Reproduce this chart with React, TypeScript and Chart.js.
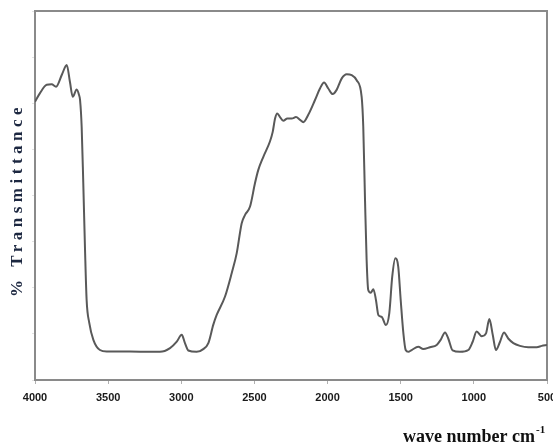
import React, { useEffect, useRef } from "react";
import { Chart, registerables } from "chart.js";

Chart.register(...registerables);

const wavenumbers = [4000,3966,3920,3886,3856,3815,3783,3761,3742,3715,3699,3692,3681,3670,3658,3647,3629,3601,3556,3510,3351,3146,3077,3031,2997,2975,2952,2895,2850,2815,2781,2758,2701,2655,2621,2587,2564,2530,2496,2474,2439,2394,2375,2359,2344,2325,2303,2275,2245,2216,2188,2166,2132,2086,2052,2024,1995,1965,1938,1903,1869,1835,1801,1767,1756,1744,1733,1722,1705,1687,1669,1653,1630,1601,1578,1558,1537,1517,1500,1482,1466,1448,1425,1380,1346,1300,1254,1227,1197,1175,1145,1095,1038,1008,981,946,917,894,871,849,821,794,765,730,685,628,570,536,500];

const transmittance = [60.3,62.2,64.0,64.1,63.6,66.3,68.3,64.6,61.4,63.0,61.8,60.7,54.9,42.7,28.2,17.3,12.4,8.7,6.5,6.2,6.2,6.1,6.9,8.3,9.8,8.0,6.4,6.1,6.7,8.0,12.0,14.1,18.1,23.2,27.5,34.0,35.8,37.6,42.7,45.5,48.4,51.7,53.8,56.7,57.8,57.0,56.2,56.7,56.7,57.0,56.4,55.9,57.5,60.7,63.2,64.5,63.2,62.0,62.9,65.4,66.3,66.1,65.0,61.4,54.9,39.0,26.0,19.5,18.9,19.7,17.3,14.1,13.7,11.9,14.5,22.4,26.4,24.6,17.3,10.2,6.5,6.1,6.5,7.2,6.7,7.1,7.6,8.7,10.3,9.0,6.4,6.1,6.5,8.3,10.5,9.5,10.1,13.2,9.8,6.5,8.3,10.3,9.0,8.0,7.4,7.1,7.1,7.4,7.6];

const xMin = 500;
const xMax = 4000;
const xStep = 500;
const yMin = 0;
const yMax = 80;
const yStep = 10;

const yTitle = "% Transmittance";
const xTitle = "wave number cm";
const xTitleSup = "-1";

const framePlugin = {
  id: "frameAndTitles",
  beforeDatasetsDraw(chart: any) {
    const { ctx, chartArea } = chart;
    ctx.save();
    ctx.strokeStyle = "#8a8a8a";
    ctx.lineWidth = 2;
    ctx.strokeRect(chartArea.left, chartArea.top, chartArea.right - chartArea.left, chartArea.bottom - chartArea.top);
    ctx.restore();
  },
  afterDraw(chart: any) {
    const { ctx } = chart;
    ctx.save();
    ctx.translate(18, 200);
    ctx.rotate(-Math.PI / 2);
    ctx.font = 'bold 17px "Liberation Serif", "Times New Roman", serif';
    (ctx as any).letterSpacing = "4.5px";
    ctx.textAlign = "center";
    ctx.textBaseline = "middle";
    ctx.fillStyle = "#1c2740";
    ctx.fillText(yTitle, 0, 0);
    ctx.restore();

    ctx.save();
    ctx.font = 'bold 18px "Liberation Serif", "Times New Roman", serif';
    ctx.textAlign = "left";
    ctx.textBaseline = "alphabetic";
    ctx.fillStyle = "#111";
    const x0 = 403;
    ctx.fillText(xTitle, x0, 442);
    const w = ctx.measureText(xTitle).width;
    ctx.font = 'bold 11px "Liberation Serif", "Times New Roman", serif';
    ctx.fillText(xTitleSup, x0 + w + 1, 433);
    ctx.restore();
  },
};

export default function App() {
  const canvasRef = useRef<HTMLCanvasElement | null>(null);

  useEffect(() => {
    document.body.style.margin = "0";
    const canvas = canvasRef.current;
    if (!canvas) return;
    const points = wavenumbers.map((w, i) => ({ x: w, y: transmittance[i] }));
    const chart = new Chart(canvas, {
      type: "line",
      data: {
        datasets: [
          {
            data: points,
            borderColor: "#595959",
            borderWidth: 2,
            pointRadius: 0,
            fill: false,
            cubicInterpolationMode: "monotone",
          },
        ],
      },
      options: {
        animation: false,
        responsive: true,
        maintainAspectRatio: false,
        layout: { padding: { top: 11, right: 6, left: 0, bottom: 0 } },
        plugins: { legend: { display: false }, tooltip: { enabled: false } },
        scales: {
          x: {
            type: "linear",
            reverse: true,
            min: xMin,
            max: xMax,
            ticks: {
              stepSize: xStep,
              padding: 7,
              color: "#1a1a1a",
              font: { family: '"Liberation Sans", Arial, sans-serif', size: 11, weight: "bold" },
              maxRotation: 0,
              callback: (v: any) => String(v),
            },
            grid: { drawOnChartArea: false, drawTicks: true, tickLength: 4, color: "#b0b0b0" },
            border: { display: false },
            afterFit(scale: any) {
              scale.height = 66;
              scale.paddingLeft = 0;
              scale.paddingRight = 0;
            },
          },
          y: {
            min: yMin,
            max: yMax,
            ticks: { stepSize: yStep, display: false },
            grid: { drawOnChartArea: false, drawTicks: true, tickLength: 3, color: "#e2e2e2" },
            border: { display: false },
            afterFit(scale: any) {
              scale.width = 35;
              scale.paddingTop = 0;
              scale.paddingBottom = 0;
            },
          },
        },
      } as any,
      plugins: [framePlugin],
    });
    return () => chart.destroy();
  }, []);

  return (
    <div style={{ width: 553, height: 446, position: "relative" }}>
      <canvas ref={canvasRef} />
    </div>
  );
}
